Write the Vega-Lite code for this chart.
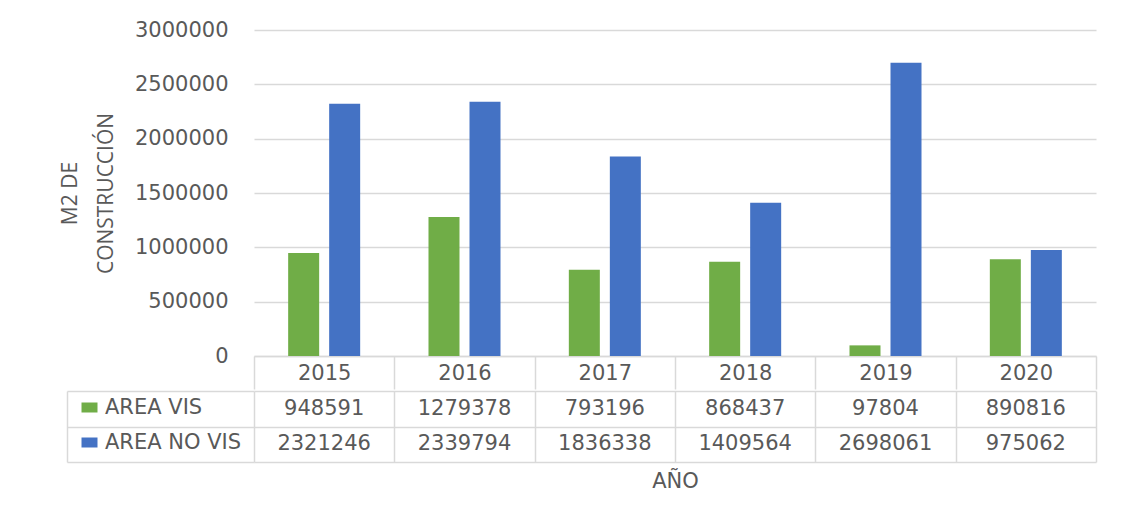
{
  "$schema": "https://vega.github.io/schema/vega-lite/v6.json",
  "background": "white",
  "padding": {"left": 59, "top": 19, "right": 20, "bottom": 10},
  "datasets": {
    "d": [
      {"year": "2015", "series": "AREA VIS", "value": 948591},
      {"year": "2016", "series": "AREA VIS", "value": 1279378},
      {"year": "2017", "series": "AREA VIS", "value": 793196},
      {"year": "2018", "series": "AREA VIS", "value": 868437},
      {"year": "2019", "series": "AREA VIS", "value": 97804},
      {"year": "2020", "series": "AREA VIS", "value": 890816},
      {"year": "2015", "series": "AREA NO VIS", "value": 2321246},
      {"year": "2016", "series": "AREA NO VIS", "value": 2339794},
      {"year": "2017", "series": "AREA NO VIS", "value": 1836338},
      {"year": "2018", "series": "AREA NO VIS", "value": 1409564},
      {"year": "2019", "series": "AREA NO VIS", "value": 2698061},
      {"year": "2020", "series": "AREA NO VIS", "value": 975062}
    ]
  },
  "spacing": 0,
  "vconcat": [
    {
      "width": 842,
      "height": 326,
      "data": {"name": "d"},
      "mark": {"type": "bar"},
      "encoding": {
        "x": {
          "field": "year", "type": "nominal",
          "scale": {"paddingInner": 0, "paddingOuter": 0},
          "axis": {
            "title": null, "labelAngle": 0, "labelFontSize": 21, "labelColor": "#595959",
            "tickBand": "extent", "tickSize": 33, "tickColor": "#d9d9d9", "tickWidth": 1.5,
            "domainColor": "#d9d9d9", "domainWidth": 1.5, "labelPadding": -27
          }
        },
        "xOffset": {
          "field": "series", "type": "nominal", "sort": ["AREA VIS", "AREA NO VIS"],
          "scale": {"paddingInner": 0.244, "paddingOuter": 0.833}
        },
        "y": {
          "field": "value", "type": "quantitative",
          "scale": {"domain": [0, 3000000]},
          "axis": {
            "tickCount": 6, "format": "d", "grid": true, "gridColor": "#d9d9d9", "gridWidth": 1.5,
            "domain": false, "ticks": false, "labelPadding": 26, "labelFontSize": 21, "labelColor": "#595959",
            "title": ["M2 DE", "CONSTRUCCIÓN"],
            "titleFont": "'Liberation Sans Narrow', 'Open Sans', sans-serif",
            "titleFontSize": 21, "titleFontWeight": "normal", "titleColor": "#595959",
            "titlePadding": 18, "titleLineHeight": 36
          }
        },
        "color": {
          "field": "series", "type": "nominal",
          "scale": {"domain": ["AREA VIS", "AREA NO VIS"], "range": ["#70AD47", "#4472C4"]},
          "legend": {
            "orient": "none", "legendX": -175, "legendY": 367, "title": null,
            "symbolType": "M-1.6,-1L1.6,-1L1.6,1L-1.6,1Z", "symbolSize": 100,
            "symbolStrokeWidth": 0, "labelFontSize": 21, "labelColor": "#595959",
            "rowPadding": 13, "labelOffset": 5, "padding": 0
          }
        }
      }
    },
    {
      "width": 842,
      "height": 71,
      "data": {"name": "d"},
      "mark": {"type": "text", "fontSize": 21, "color": "#595959"},
      "encoding": {
        "x": {
          "field": "year", "type": "nominal",
          "scale": {"paddingInner": 0, "paddingOuter": 0},
          "axis": {
            "labels": false, "ticks": false, "domain": false, "grid": true, "tickBand": "extent",
            "gridColor": "#d9d9d9", "gridWidth": 1.5,
            "title": "AÑO", "titleFontSize": 21, "titleFontWeight": "normal", "titleColor": "#595959", "titlePadding": 8
          }
        },
        "y": {
          "field": "series", "type": "nominal", "sort": ["AREA VIS", "AREA NO VIS"],
          "scale": {"paddingInner": 0, "paddingOuter": 0},
          "axis": {
            "labels": false, "title": null, "domain": true, "domainColor": "#d9d9d9", "domainWidth": 1.5,
            "offset": 187, "grid": true, "tickBand": "extent", "gridColor": "#d9d9d9", "gridWidth": 1.5,
            "ticks": true, "tickSize": -187, "tickColor": "#d9d9d9", "tickWidth": 1.5
          }
        },
        "text": {"field": "value", "type": "quantitative", "format": "d"}
      }
    }
  ],
  "config": {
    "font": "DejaVu Sans",
    "view": {"stroke": null}
  }
}
